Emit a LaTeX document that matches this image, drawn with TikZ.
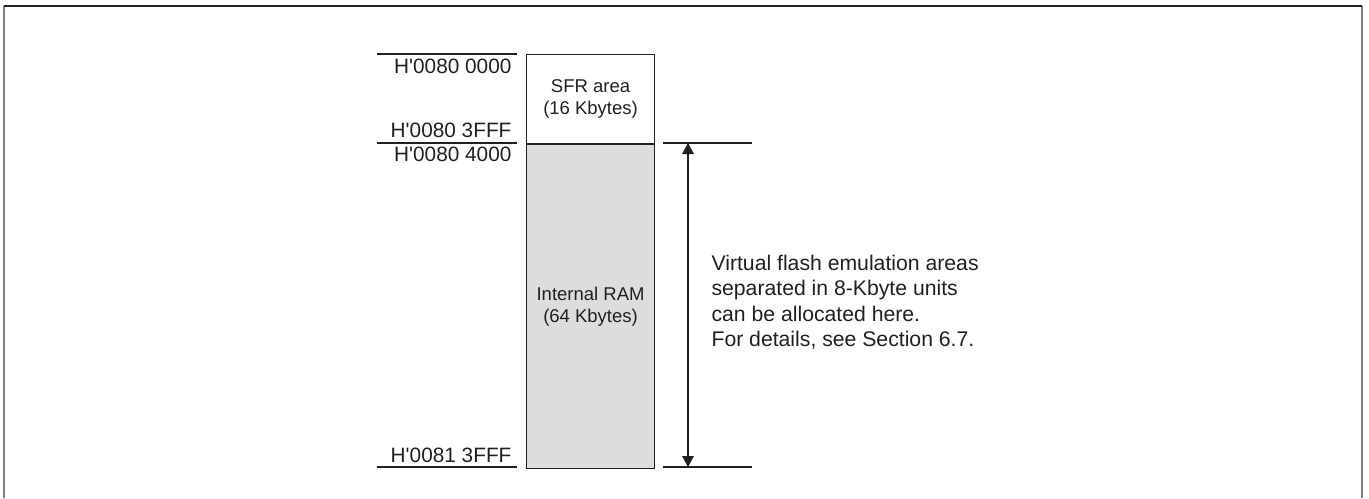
\documentclass[tikz,border=0pt]{standalone}
\usepackage{fontspec}
\setmainfont{Liberation Sans}
\usepackage{tikz}
\usetikzlibrary{arrows.meta, calc, positioning}

\definecolor{ramgray}{HTML}{DCDDDF}
\definecolor{linedark}{HTML}{231F20}
\newcommand{\haddr}[1]{H\textquotesingle#1}

\begin{document}
\begin{tikzpicture}[>={Triangle[length=5.5pt,width=5.8pt]}, x=0.5pt, y=-0.5pt, line width=0.55pt]
	\tikzstyle{area} = [draw=linedark, rectangle, minimum width=64pt, inner sep=0pt, align=center, font=\fontsize{9.25}{11.2}\selectfont, text=linedark]
	\tikzstyle{addr} = [inner sep=0pt, anchor=base east, font=\fontsize{10.4}{12.6}\selectfont, text=linedark]
	\tikzstyle{addrline} = [draw=linedark]

	\useasboundingbox (0,0) rectangle (1369,498);

	% frame
	\draw[gray, line width=1pt] (3.5,498) -- (3.5,6) (1362,6) -- (1362,498);
	\draw[linedark, line width=1pt] (3.5,6) -- (1362,6);

	% memory map
	\node[area, minimum height=44.5pt, anchor=north west] (sfr) at (526,54) {SFR area\\(16 Kbytes)};
	\node[area, minimum height=162pt, fill=ramgray, below=0pt of sfr] (ram) {Internal RAM\\(64 Kbytes)};

	% address lines
	\coordinate (l1) at (377,54);   \coordinate (r1) at (517,54);
	\coordinate (l2) at (377,143);  \coordinate (r2) at (517,143);
	\coordinate (l3) at (377,467);  \coordinate (r3) at (517,467);
	\coordinate (m2) at (663,143);  \coordinate (n2) at (752,143);
	\coordinate (m3) at (663,467);  \coordinate (n3) at (752,467);
	\draw[addrline] (l1) -- (r1) (l2) -- (r2) (l3) -- (r3);
	\draw[addrline] (m2) -- (n2) (m3) -- (n3);

	\node[addr] (a1) at (512,73) {\haddr{0080 0000}};
	\node[addr] (a2) at (512,137) {\haddr{0080 3FFF}};
	\node[addr] (a3) at (512,161.5) {\haddr{0080 4000}};
	\node[addr] (a4) at (512,462) {\haddr{0081 3FFF}};

	% range arrow
	\coordinate (p1) at ($(m2)+(25,0)$);
	\coordinate (p2) at ($(m3)+(25,0)$);
	\draw[<->, linedark] (p1) -- (p2);

	\node[inner sep=0pt, anchor=west, align=left, text=linedark, font=\fontsize{10.6}{12.7}\selectfont] (note) at (711,302)
		{Virtual flash emulation areas\\separated in 8-Kbyte units\\can be allocated here.\\For details, see Section 6.7.};
\end{tikzpicture}
\end{document}
